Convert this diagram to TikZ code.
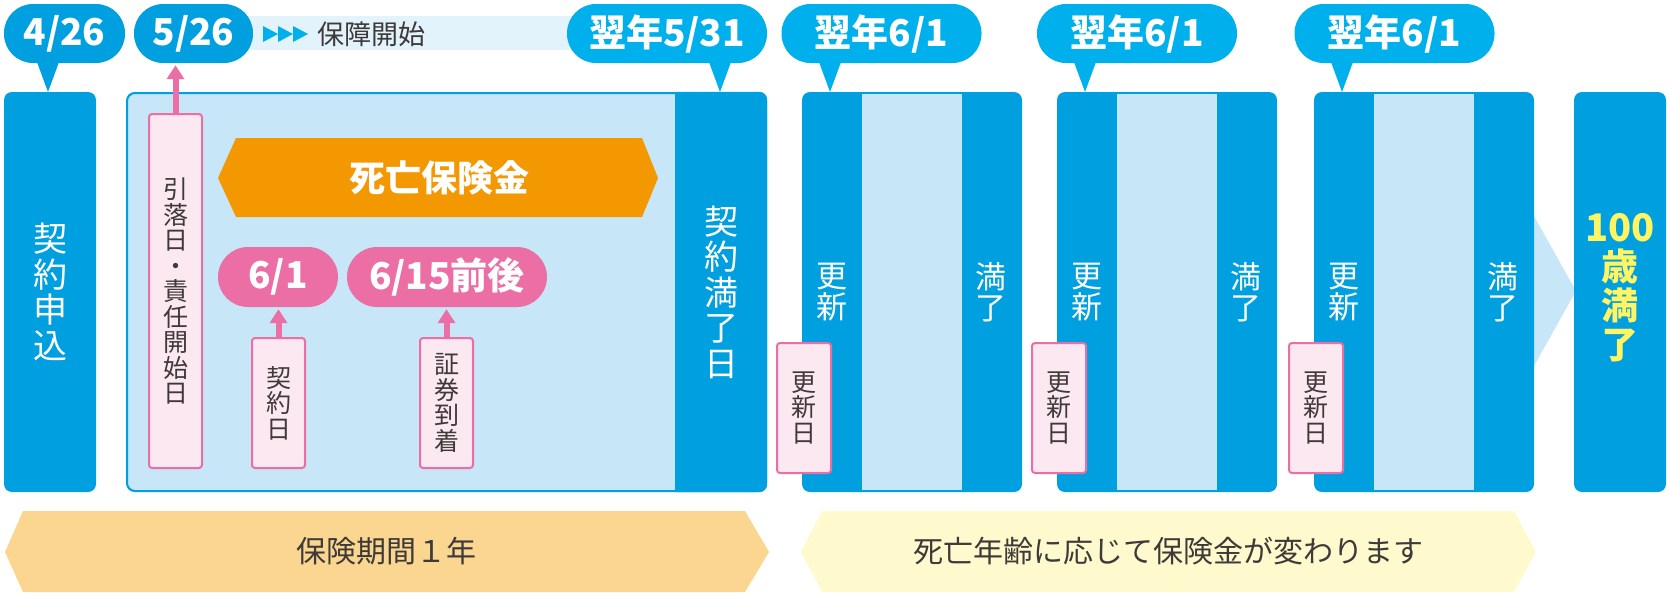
\documentclass[tikz,border=0pt]{standalone}
\usepackage{fontspec}
\setmainfont{Noto Sans CJK JP}
\usetikzlibrary{arrows.meta}
\definecolor{boxblue}{HTML}{00A0E0}
\definecolor{bubblue}{HTML}{00B0EC}
\definecolor{lightblue}{HTML}{C7E7F8}
\definecolor{barblue}{HTML}{E3F3FC}
\definecolor{mypink}{HTML}{EB6EA5}
\definecolor{pinklight}{HTML}{FCE8F1}
\definecolor{orng}{HTML}{F39800}
\definecolor{lorange}{HTML}{FAD691}
\definecolor{lyellow}{HTML}{FFFACD}
\definecolor{ytext}{HTML}{FFF462}
\definecolor{dtext}{HTML}{3E3A39}
\begin{document}
\begin{tikzpicture}[x=1pt,y=-1pt,
  bub/.style={fill=bubblue, text=white, rounded corners=29pt, minimum height=59pt, inner sep=0pt, font=\fontsize{37}{40}\selectfont\bfseries},
  bluebox/.style={fill=boxblue, rounded corners=8pt, minimum height=400pt, inner sep=0pt},
  pinkbox/.style={fill=pinklight, draw=mypink, line width=2pt, rounded corners=3pt, inner sep=0pt, minimum width=53pt, text=dtext, align=center, font=\fontsize{25}{25.5}\selectfont},
  pill/.style={fill=mypink, text=white, rounded corners=30pt, minimum height=60pt, inner sep=0pt, font=\fontsize{37}{40}\selectfont\bfseries},
  parrow/.style={draw=mypink, line width=6pt, shorten >=2pt, -{Triangle[width=17pt,length=14pt]}},
  vwhite/.style={text=white, align=center, inner sep=0pt, font=\fontsize{34}{35.5}\selectfont},
  vsmall/.style={text=white, align=center, inner sep=0pt, font=\fontsize{31}{31}\selectfont},
  bottomtext/.style={text=dtext, inner sep=0pt, font=\fontsize{30}{32}\selectfont}
]
\useasboundingbox (0,0) rectangle (1670,600);

% bar for 保障開始
\fill[barblue] (193,16) rectangle (667,50);
\foreach \tx in {263,278,293}{
  \fill[bubblue] (\tx,26) -- (\tx+15,34) -- (\tx,42) -- cycle;
}
\node[text=dtext, inner sep=0pt, font=\fontsize{27}{30}\selectfont, anchor=west] (start) at (317,34) {保障開始};

% left box
\node[bluebox, minimum width=92pt] (apply) at (50,292) {};
\node[vwhite] (applyt) at (50,292) {契\\約\\申\\込};
\node[bub, fill=boxblue, minimum width=121pt] (b1) at (64.5,33.5) {4/26};
\coordinate (tip1) at (48,92);
\fill[boxblue] (37,62) -- (tip1) -- (59,62) -- cycle;

% container
\node[fill=lightblue, rounded corners=8pt, minimum width=641pt, minimum height=400pt, inner sep=0pt] (cont) at (446.5,292) {};
\begin{scope}
  \clip[rounded corners=8pt] (cont.north west) rectangle (cont.south east);
  \fill[boxblue] (675,80) rectangle (780,500);
\end{scope}
\draw[boxblue, line width=2pt, rounded corners=8pt] (127,93) rectangle (766,491);
\node[vwhite] (endt) at (721,292) {契\\約\\満\\了\\日};

\node[bub, fill=boxblue, minimum width=119pt] (b2) at (193.5,33.5) {5/26};
\node[bub, minimum width=200pt] (b3) at (667,33.5) {翌年5/31};
\coordinate (tip3) at (720,92);
\fill[bubblue] (709,62) -- (tip3) -- (731,62) -- cycle;

% pink box 引落日
\node[pinkbox, minimum height=354pt] (p1) at (175.5,291) {引\\落\\日\\・\\責\\任\\開\\始\\日};
\draw[parrow] (p1.north) -- (p1.north |- b2.south);

% orange hexagon
\fill[orng] (218,178) -- (236,138) -- (642,138) -- (658,178) -- (642,217) -- (236,217) -- cycle;
\node[text=white, inner sep=0pt, font=\fontsize{36}{40}\selectfont\bfseries] (death) at (439,178) {死亡保険金};

% pills
\node[pill, minimum width=120pt] (pl1) at (278,277) {6/1};
\node[pill, minimum width=200pt] (pl2) at (447,277) {6/15前後};
\node[pinkbox, minimum height=130pt] (k1) at (278.5,403) {契\\約\\日};
\node[pinkbox, minimum height=130pt] (k2) at (446.5,403) {証\\券\\到\\着};
\draw[parrow] (k1.north) -- (k1.north |- pl1.south);
\draw[parrow] (k2.north) -- (k2.north |- pl2.south);

% light arrow to final
\fill[lightblue] (1525,200) -- (1576,291) -- (1525,382) -- cycle;

% renewal boxes
\foreach \i/\xl/\bx in {1/802/881.5, 2/1057/1137, 3/1314/1394.5} {
  \node[bluebox, minimum width=220pt] (r\i) at (\xl+110,292) {};
  \fill[lightblue] (\xl+60,94) rectangle (\xl+160,490);
  \node[bub, minimum width=200pt] (rb\i) at (\bx,33.5) {翌年6/1};
  \coordinate (rt\i) at (\xl+28,92);
  \fill[bubblue] (\xl+17,62) -- (rt\i) -- (\xl+39,62) -- cycle;
  \node[vsmall] (ru\i) at (\xl+29.5,292) {更\\新};
  \node[vsmall] (rm\i) at (\xl+189,292) {満\\了};
  \node[pinkbox, minimum height=130pt, minimum width=54pt] (rd\i) at (\xl+2,408) {更\\新\\日};
}

% final box
\node[bluebox, minimum width=92pt] (final) at (1620,292) {};
\node[text=ytext, align=center, inner sep=0pt, font=\fontsize{37}{39}\selectfont\bfseries] (finalt) at (1620,288) {{\fontsize{38}{39}\selectfont 100}\\歳\\満\\了};

% bottom hexagons
\fill[lorange] (5,552) -- (23,511) -- (745,511) -- (769,552) -- (745,592) -- (23,592) -- cycle;
\node[bottomtext] (period) at (386,551) {保険期間１年};
\fill[lyellow] (801,552) -- (822,511) -- (1514,511) -- (1536,552) -- (1514,592) -- (822,592) -- cycle;
\node[bottomtext] (vary) at (1168,551) {死亡年齢に応じて保険金が変わります};
\end{tikzpicture}
\end{document}
